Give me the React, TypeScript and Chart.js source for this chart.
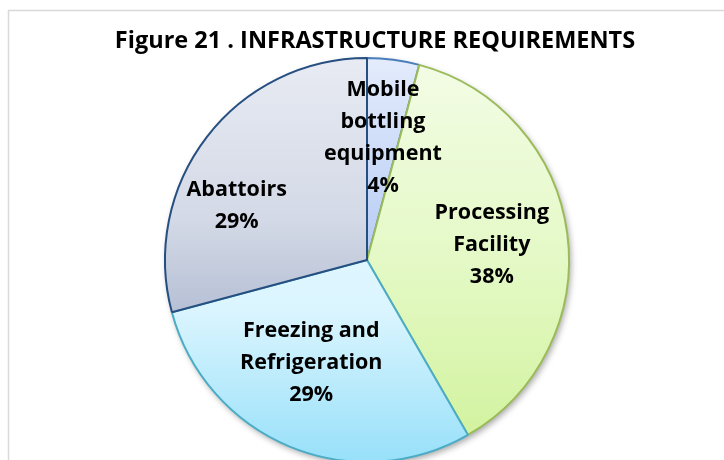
import React, { useEffect, useRef } from "react";
import { Chart, registerables } from "chart.js";

Chart.register(...registerables);

const TITLE = "Figure 21 . INFRASTRUCTURE REQUIREMENTS";
const categories = ["Mobile bottling equipment", "Processing Facility", "Freezing and Refrigeration", "Abattoirs"];
const labelLines = [["Mobile", "bottling", "equipment"], ["Processing", "Facility"], ["Freezing and", "Refrigeration"], ["Abattoirs"]];
const values = [1, 9, 7, 7];

// label placement relative to pie centre, in units of the radius
const labelOffsets = [
  [0.079, -0.603],
  [0.618, -0.076],
  [-0.276, 0.507],
  [-0.645, -0.266],
];

const gradientStops: [number, string][][] = [
  [[0, "#e4ecfc"], [0.5, "#b6cbf5"], [1, "#9ab8f0"]],
  [[0, "#f3fce6"], [0.5, "#e4f9c6"], [1, "#d0f29a"]],
  [[0, "#eefaff"], [0.62, "#dbf5fe"], [1, "#97e0f9"]],
  [[0, "#e8ebf3"], [0.4, "#d3d9e6"], [0.63, "#b6c0d5"], [1, "#a4b0ca"]],
];
const borderColors = ["#4a7ebb", "#9bbb59", "#4bacc6", "#254f80"];

const FONT = "'Open Sans', sans-serif";

export default function App() {
  const ref = useRef<HTMLCanvasElement>(null);
  useEffect(() => {
    document.body.style.margin = "0";
    const canvas = ref.current!;
    const total = values.reduce((a, b) => a + b, 0);

    const framePlugin = {
      id: "frame",
      beforeDraw(chart: any) {
        const ctx = chart.ctx;
        ctx.save();
        ctx.fillStyle = "#ffffff";
        ctx.fillRect(0, 0, chart.width, chart.height);
        ctx.strokeStyle = "#d9d9d9";
        ctx.lineWidth = 1.5;
        ctx.strokeRect(8.5, 10.5, chart.width + 20, chart.height + 20);
        ctx.fillStyle = "#000";
        ctx.font = `bold 23.5px ${FONT}`;
        ctx.textAlign = "center";
        ctx.textBaseline = "alphabetic";
        ctx.fillText(TITLE, 375, 48);
        ctx.restore();
      },
      beforeDatasetsDraw(chart: any) {
        const arc = chart.getDatasetMeta(0).data[0];
        if (!arc) return;
        const { x, y, outerRadius } = arc.getProps(["x", "y", "outerRadius"], true);
        const ctx = chart.ctx;
        ctx.save();
        ctx.shadowColor = "rgba(0,0,0,0.35)";
        ctx.shadowBlur = 6;
        ctx.shadowOffsetX = 2;
        ctx.shadowOffsetY = 3;
        ctx.fillStyle = "#ffffff";
        ctx.beginPath();
        ctx.arc(x, y, outerRadius, 0, Math.PI * 2);
        ctx.fill();
        ctx.restore();
      },
      afterDatasetsDraw(chart: any) {
        const meta = chart.getDatasetMeta(0);
        const ctx = chart.ctx;
        ctx.save();
        ctx.fillStyle = "#000";
        ctx.font = `bold 21.5px ${FONT}`;
        ctx.textAlign = "center";
        ctx.textBaseline = "middle";
        meta.data.forEach((el: any, i: number) => {
          const { x, y, outerRadius } = el.getProps(["x", "y", "outerRadius"], true);
          const cx = x + labelOffsets[i][0] * outerRadius;
          const cy = y + labelOffsets[i][1] * outerRadius;
          const pct = Math.round((values[i] / total) * 100) + "%";
          const lines = [...labelLines[i], pct];
          const lh = 32;
          const top = cy - ((lines.length - 1) * lh) / 2;
          lines.forEach((t, j) => ctx.fillText(t, cx, top + j * lh));
        });
        ctx.restore();
      },
    };

    const chart = new Chart(canvas, {
      type: "pie",
      data: {
        labels: categories,
        datasets: [
          {
            data: values,
            backgroundColor: (c: any) => {
              const area = c.chart.chartArea;
              if (!area) return "#ccc";
              const g = c.chart.ctx.createLinearGradient(0, area.top, 0, area.bottom);
              gradientStops[c.dataIndex].forEach(([o, col]) => g.addColorStop(o, col));
              return g;
            },
            borderColor: borderColors,
            borderWidth: 2,
            borderAlign: "center",
            hoverOffset: 0,
            offset: 0,
          } as any,
        ],
      },
      options: {
        responsive: false,
        animation: false,
        devicePixelRatio: 1,
        rotation: 0,
        layout: { padding: { left: 164, right: 154, top: 57, bottom: 7 } },
        plugins: {
          legend: { display: false },
          title: { display: false },
          tooltip: { enabled: false },
        },
        events: [],
      },
      plugins: [framePlugin],
    });
    return () => chart.destroy();
  }, []);

  return (
    <div style={{ width: 724, height: 460, overflow: "hidden" }}>
      <canvas ref={ref} width={724} height={470} style={{ display: "block" }} />
    </div>
  );
}
